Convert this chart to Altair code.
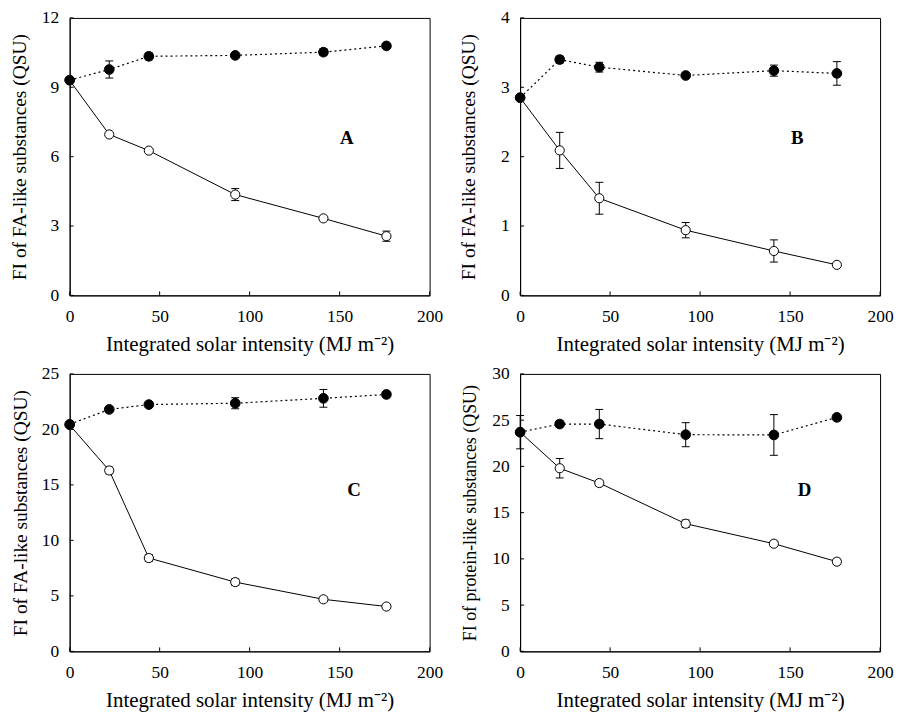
import altair as alt
import pandas as pd

FONT = "Liberation Serif"
W, H = 362, 279

x_vals = [0, 22, 44, 92, 141, 176]
x_ticks = [0, 50, 100, 150, 200]
x_title = "Integrated solar intensity (MJ m\u207b\u00b2)"

# Panel A (FA-like)
a_irr = [9.30, 6.96, 6.26, 4.36, 3.33, 2.56]
a_irr_err = [0.0, 0.08, 0.08, 0.26, 0.08, 0.22]
a_ctl = [9.31, 9.77, 10.34, 10.38, 10.52, 10.79]
a_ctl_err = [0.0, 0.37, 0.15, 0.05, 0.15, 0.05]

# Panel B (FA-like)
b_irr = [2.85, 2.09, 1.40, 0.94, 0.64, 0.44]
b_irr_err = [0.0, 0.26, 0.23, 0.11, 0.16, 0.02]
b_ctl = [2.85, 3.40, 3.29, 3.17, 3.24, 3.20]
b_ctl_err = [0.0, 0.05, 0.07, 0.02, 0.08, 0.17]

# Panel C (FA-like)
c_irr = [20.40, 16.30, 8.41, 6.24, 4.69, 4.04]
c_irr_err = [0.0, 0.3, 0.3, 0.3, 0.2, 0.2]
c_ctl = [20.46, 21.80, 22.24, 22.36, 22.80, 23.15]
c_ctl_err = [0.0, 0.2, 0.2, 0.5, 0.8, 0.2]

# Panel D (protein-like)
d_irr = [23.70, 19.80, 18.20, 13.80, 11.64, 9.70]
d_irr_err = [0.0, 1.05, 0.3, 0.4, 0.3, 0.3]
d_ctl = [23.70, 24.58, 24.58, 23.43, 23.40, 25.30]
d_ctl_err = [1.8, 0.3, 1.58, 1.3, 2.2, 0.3]


def panel(letter, irr, irr_err, ctl, ctl_err, ymax, ystep, ytitle, ytitle_size,
          letter_xy, title_pad):
    rows = []
    for i, xv in enumerate(x_vals):
        rows.append({"x": xv, "y": irr[i], "err": irr_err[i], "s": "irr"})
    for i, xv in enumerate(x_vals):
        rows.append({"x": xv, "y": ctl[i], "err": ctl_err[i], "s": "ctl"})
    df = pd.DataFrame(rows)
    df["lo"] = df["y"] - df["err"]
    df["hi"] = df["y"] + df["err"]

    xs = alt.Scale(domain=[0, 200], nice=False, zero=False)
    ys = alt.Scale(domain=[0, ymax], nice=False)
    y_ticks = list(range(0, ymax + 1, ystep))
    common = dict(ticks=False, grid=False, domainColor="black", domainWidth=1,
                  labelFont=FONT, labelFontSize=17.5, labelColor="black",
                  labelFlush=False, labelOverlap=False,
                  titleFont=FONT, titleColor="black", titleFontWeight="normal",
                  format="d")
    xax = alt.Axis(values=x_ticks, title=x_title, titleFontSize=21,
                   labelPadding=12, titlePadding=9, **common)
    yax = alt.Axis(values=y_ticks, title=ytitle, titleFontSize=ytitle_size,
                   labelPadding=11, titlePadding=title_pad, **common)
    X = alt.X("x:Q", scale=xs, axis=xax)
    Y = alt.Y("y:Q", scale=ys, axis=yax)

    base = alt.Chart(df)
    line_irr = base.transform_filter("datum.s == 'irr'").mark_line(
        color="black", strokeWidth=1).encode(x=X, y=Y)
    line_ctl = base.transform_filter("datum.s == 'ctl'").mark_line(
        color="black", strokeWidth=1.2, strokeDash=[2, 3]).encode(x=X, y=Y)
    eb = base.transform_filter("datum.err > 0")
    err_v = eb.mark_rule(color="black", strokeWidth=1).encode(
        x=X, y=alt.Y("lo:Q", scale=ys, axis=yax), y2="hi:Q")
    cap_hi = eb.mark_rule(color="black", strokeWidth=1, xOffset=-4, x2Offset=4).encode(
        x=X, x2="x:Q", y=alt.Y("hi:Q", scale=ys, axis=yax))
    cap_lo = eb.mark_rule(color="black", strokeWidth=1, xOffset=-4, x2Offset=4).encode(
        x=X, x2="x:Q", y=alt.Y("lo:Q", scale=ys, axis=yax))
    pts_irr = base.transform_filter("datum.s == 'irr'").mark_point(
        shape="circle", filled=True, fill="white", stroke="black", strokeWidth=1,
        size=85, opacity=1).encode(x=X, y=Y)
    pts_ctl = base.transform_filter("datum.s == 'ctl'").mark_point(
        shape="circle", filled=True, fill="black", stroke="black", strokeWidth=1,
        size=95, opacity=1).encode(x=X, y=Y)

    xt = alt.Chart(pd.DataFrame({"x": x_ticks})).mark_rule(
        color="black", strokeWidth=1).encode(
        x=X, y=alt.value(H), y2=alt.value(H - 4))
    yt = alt.Chart(pd.DataFrame({"y": y_ticks})).mark_rule(
        color="black", strokeWidth=1).encode(
        y=Y, x=alt.value(0), x2=alt.value(4))

    lab = alt.Chart(pd.DataFrame({"x": [letter_xy[0]], "y": [letter_xy[1]], "t": [letter]})).mark_text(
        font=FONT, fontSize=19, fontWeight="bold", color="black").encode(
        x=X, y=Y, text="t:N")

    return alt.layer(xt, yt, line_irr, line_ctl, err_v, cap_hi, cap_lo,
                     pts_irr, pts_ctl, lab).properties(width=W, height=H)


pA = panel("A", a_irr, a_irr_err, a_ctl, a_ctl_err, 12, 3,
           "FI of FA-like substances (QSU)", 19.5, (154, 6.8), 12)
pB = panel("B", b_irr, b_irr_err, b_ctl, b_ctl_err, 4, 1,
           "FI of FA-like substances (QSU)", 19.5, (154, 2.27), 22)
pC = panel("C", c_irr, c_irr_err, c_ctl, c_ctl_err, 25, 5,
           "FI of FA-like substances (QSU)", 19.5, (158, 14.5), 11)
pD = panel("D", d_irr, d_irr_err, d_ctl, d_ctl_err, 30, 5,
           "FI of protein-like substances (QSU)", 18, (158, 17.4), 12.5)

chart = alt.concat(pA, pB, pC, pD, columns=2, spacing={"row": 9, "column": 14}).properties(
    padding={"left": 0, "top": -2, "right": 0, "bottom": 0}
).configure_view(
    stroke="black", strokeWidth=1
)

chart.save("out.html", embed_options={"renderer": "svg", "actions": False})
